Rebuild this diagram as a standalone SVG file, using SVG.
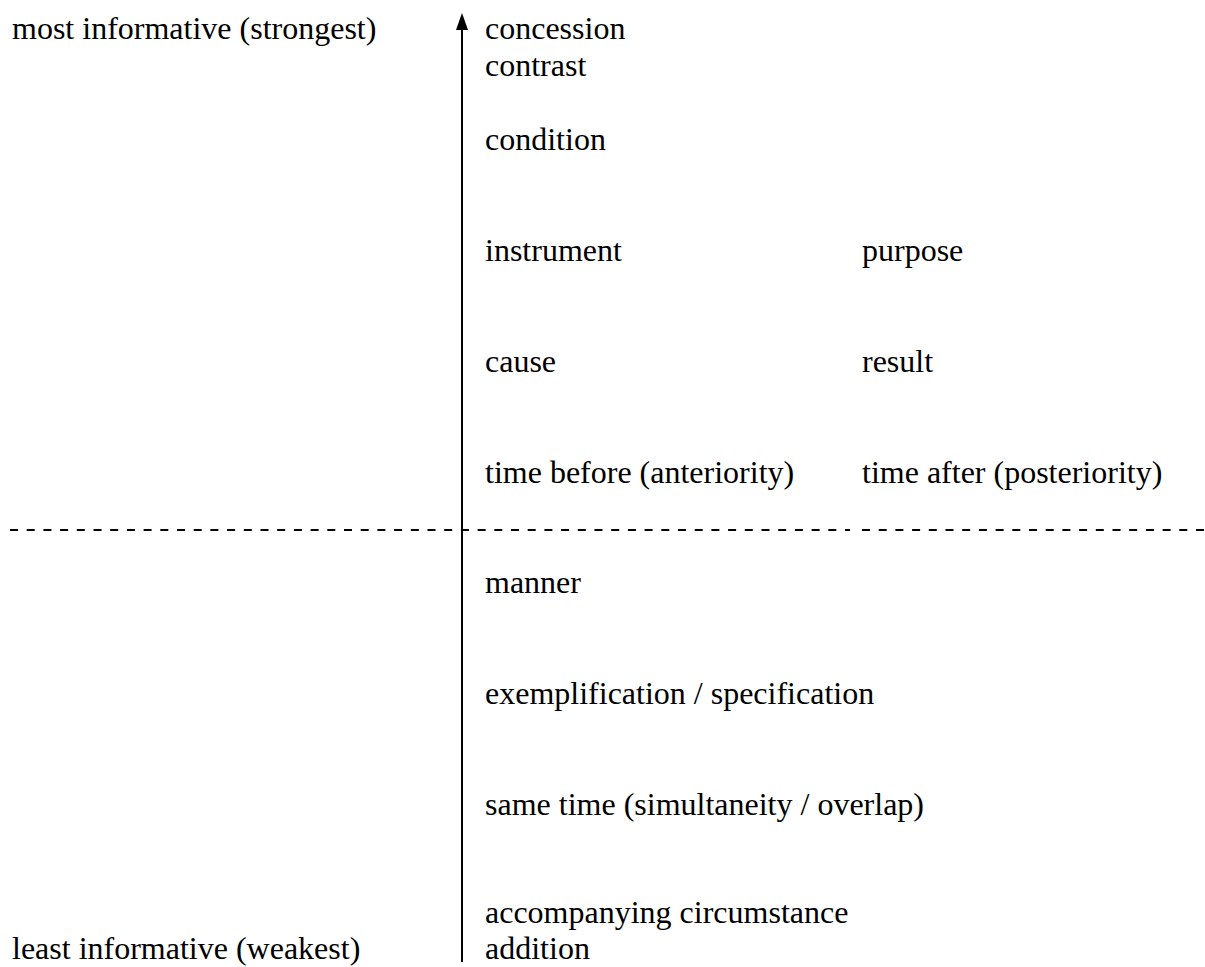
<svg xmlns="http://www.w3.org/2000/svg" width="1205" height="967" viewBox="0 0 1205 967">
<style>
.lbl { font-family: 'Liberation Serif', 'Times New Roman', Times, serif; font-size: 32px; fill: #000; }
.axis { stroke: #000; stroke-width: 2; fill: none; }
.dash { stroke: #000; stroke-width: 2; stroke-dasharray: 8 8.7; fill: none; }
</style>
<rect width="1205" height="967" fill="#fff"/>
<g id="connectors">
<line class="axis" x1="462" y1="962" x2="462" y2="24"/>
<polygon points="462,13 456,30 468,30" fill="#000"/>
<line class="dash" x1="10" y1="530" x2="850" y2="530"/>
<line class="dash" x1="862" y1="530" x2="1205" y2="530"/>
</g>
<g font-family="Liberation Serif, serif" font-size="32">
<g id="label-most"><text class="lbl" x="12" y="39">most informative (strongest)</text></g>
<g id="label-least"><text class="lbl" x="12" y="959">least informative (weakest)</text></g>
<g id="concession"><text class="lbl" x="485" y="39">concession</text></g>
<g id="contrast"><text class="lbl" x="485" y="76">contrast</text></g>
<g id="condition"><text class="lbl" x="485" y="150">condition</text></g>
<g id="instrument"><text class="lbl" x="485" y="261">instrument</text></g>
<g id="purpose"><text class="lbl" x="862" y="261">purpose</text></g>
<g id="cause"><text class="lbl" x="485" y="372">cause</text></g>
<g id="result"><text class="lbl" x="862" y="372">result</text></g>
<g id="time-before"><text class="lbl" x="485" y="483">time before (anteriority)</text></g>
<g id="time-after"><text class="lbl" x="862" y="483">time after (posteriority)</text></g>
<g id="manner"><text class="lbl" x="485" y="593">manner</text></g>
<g id="exemplification"><text class="lbl" x="485" y="704">exemplification / specification</text></g>
<g id="same-time"><text class="lbl" x="485" y="815">same time (simultaneity / overlap)</text></g>
<g id="accompanying"><text class="lbl" x="485" y="923">accompanying circumstance</text></g>
<g id="addition"><text class="lbl" x="485" y="959">addition</text></g>
</g>
</svg>
